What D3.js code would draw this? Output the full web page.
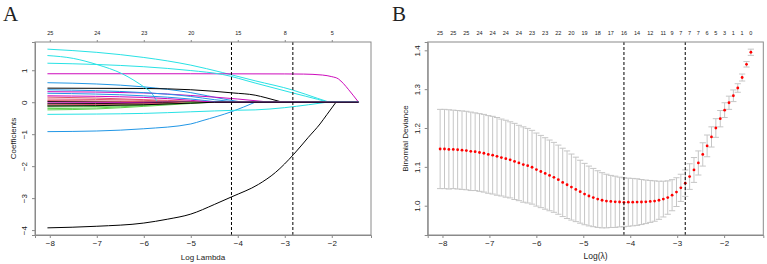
<!DOCTYPE html>
<html>
<head>
<meta charset="utf-8">
<script src="https://cdn.jsdelivr.net/npm/d3@7"></script>
<style>
  body { margin: 0; background: #fff; }
  svg { display: block; }
  text { font-family: "Liberation Sans", Arial, sans-serif; fill: #222; }
</style>
</head>
<body>
<svg id="chart" width="767" height="264"></svg>
<script>
// log(lambda) grid used by glmnet / cv.glmnet
const logLambda = [
  -8.050, -7.957, -7.864, -7.770, -7.677, -7.584, -7.491, -7.397, -7.304, -7.211,
  -7.118, -7.024, -6.931, -6.838, -6.745, -6.651, -6.558, -6.465, -6.372, -6.278,
  -6.185, -6.092, -5.999, -5.905, -5.812, -5.719, -5.626, -5.532, -5.439, -5.346,
  -5.253, -5.159, -5.066, -4.973, -4.880, -4.787, -4.693, -4.600, -4.507, -4.414,
  -4.320, -4.227, -4.134, -4.041, -3.947, -3.854, -3.761, -3.668, -3.574, -3.481,
  -3.388, -3.295, -3.201, -3.108, -3.015, -2.922, -2.828, -2.735, -2.642, -2.549,
  -2.455, -2.362, -2.269, -2.176, -2.082, -1.989, -1.896, -1.803, -1.709, -1.616,
  -1.523, -1.430
];

// cross-validated binomial deviance (mean) and its standard error
const cvMean = [
  1.146, 1.146, 1.145, 1.145, 1.144, 1.143, 1.142, 1.140, 1.139, 1.137,
  1.135, 1.132, 1.130, 1.127, 1.124, 1.121, 1.118, 1.114, 1.110, 1.106,
  1.103, 1.099, 1.093, 1.088, 1.083, 1.078, 1.073, 1.067, 1.060, 1.054,
  1.048, 1.042, 1.036, 1.030, 1.025, 1.021, 1.017, 1.014, 1.012, 1.011,
  1.010, 1.0095, 1.0088, 1.0090, 1.0092, 1.0093, 1.0095, 1.010, 1.011, 1.012,
  1.014, 1.017, 1.021, 1.027, 1.035, 1.046, 1.058, 1.075, 1.092, 1.110,
  1.132, 1.154, 1.177, 1.200, 1.224, 1.246, 1.265, 1.283, 1.303, 1.330,
  1.364, 1.395
];
const cvSd = [
  0.102, 0.102, 0.102, 0.101, 0.101, 0.101, 0.101, 0.101, 0.100, 0.100,
  0.100, 0.100, 0.100, 0.100, 0.099, 0.099, 0.098, 0.098, 0.097, 0.097,
  0.096, 0.095, 0.094, 0.093, 0.092, 0.091, 0.090, 0.089, 0.088, 0.087,
  0.085, 0.083, 0.081, 0.079, 0.077, 0.075, 0.073, 0.071, 0.069, 0.067,
  0.066, 0.064, 0.063, 0.062, 0.061, 0.060, 0.058, 0.056, 0.054, 0.052,
  0.049, 0.046, 0.043, 0.040, 0.037, 0.035, 0.034, 0.033, 0.032, 0.031,
  0.030, 0.028, 0.026, 0.024, 0.021, 0.019, 0.017, 0.015, 0.011, 0.009,
  0.007, 0.008
];

// number of non-zero coefficients at each lambda
const nzero = [
  25, 25, 25, 25, 25, 25, 25, 25, 25, 24,
  24, 24, 24, 24, 24, 24, 24, 24, 24, 24,
  24, 23, 23, 23, 23, 23, 22, 22, 20, 20,
  20, 19, 19, 19, 18, 18, 18, 17, 17, 17,
  16, 16, 16, 14, 14, 14, 12, 12, 12, 11,
  11, 11, 10, 9, 8, 7, 7, 7, 7, 7,
  6, 6, 5, 5, 4, 3, 2, 1, 1, 1,
  1, 0
];

const lambdaMin = -4.134;
const lambda1se = -2.828;

// panel A top axis: degrees of freedom at the bottom tick positions
const coefTicks = [-8, -7, -6, -5, -4, -3, -2];
const coefTopDf = [25, 24, 23, 20, 15, 8, 5];

// coefficient paths, [logLambda, coef] knots from small lambda until the variable drops out
const coefPaths = [
  [[-8.05, -3.93], [-7, -3.88], [-6, -3.78], [-5.5, -3.66], [-5, -3.5], [-4.5, -3.2], [-4.13, -2.96], [-3.56, -2.57], [-3.2, -2.2], [-2.81, -1.63], [-2.5, -1.1], [-2.25, -0.68], [-2.1, -0.38], [-1.91, 0]],
  [[-8.05, 0.16], [-7, 0.13], [-6, 0.08], [-5, 0.03], [-4.6, 0]],
  [[-8.05, -0.24], [-7, -0.21], [-6, -0.13], [-5, -0.04], [-4.5, 0]],
  [[-8.05, 0.61], [-7, 0.57], [-6, 0.48], [-5, 0.3], [-4.3, 0.1], [-3.9, 0]],
  [[-8.05, 1.66], [-7, 1.56], [-6, 1.4], [-5, 1.16], [-4.33, 0.93], [-3.63, 0.67], [-2.83, 0.38], [-2.3, 0.12], [-2.05, 0]],
  [[-8.05, 0.89], [-5, 0.89], [-3, 0.885], [-2.6, 0.88], [-2.2, 0.85], [-2.0, 0.8], [-1.86, 0.73], [-1.75, 0.58], [-1.64, 0.39], [-1.43, 0]],
  [[-8.05, 0.44], [-6, 0.43], [-5, 0.39], [-4.1, 0.29], [-3.63, 0.22], [-3.4, 0.14], [-3.05, 0]],
  [[-8.05, 0.1], [-6, 0.06], [-5.2, 0]],
  [[-8.05, -0.15], [-6.5, -0.12], [-5.5, -0.06], [-4.8, 0]],
  [[-8.05, -0.92], [-7, -0.9], [-6, -0.83], [-5, -0.68], [-4.76, -0.58], [-4.12, -0.29], [-3.63, 0]],
  [[-8.05, 1.46], [-7.5, 1.37], [-7, 1.18], [-6.46, 0.89], [-5.96, 0.44], [-5.86, 0.33], [-5.71, 0]],
  [[-8.05, 0.33], [-6, 0.29], [-5, 0.21], [-4, 0.1], [-3.3, 0]],
  [[-8.05, 0.02], [-6, 0.01], [-5, 0]],
  [[-8.05, 0.05], [-6.5, 0.03], [-5.5, 0]],
  [[-8.05, -0.1], [-6, -0.06], [-5, -0.02], [-4.6, 0]],
  [[-8.05, 0.39], [-6, 0.3], [-5, 0.18], [-4.5, 0.08], [-4, 0]],
  [[-8.05, 1.22], [-7, 1.18], [-6, 1.11], [-5, 0.99], [-4.33, 0.87], [-3.63, 0.6], [-2.83, 0.29], [-2.3, 0.09], [-2.08, 0]],
  [[-8.05, -0.02], [-6, -0.01], [-5.5, 0]],
  [[-8.05, -0.05], [-6, -0.03], [-5.2, 0]],
  [[-8.05, -0.08], [-6, -0.05], [-5, 0]],
  [[-8.05, -0.2], [-7, -0.18], [-6, -0.1], [-5.3, -0.04], [-4.9, 0]],
  [[-8.05, 0.28], [-6, 0.2], [-5, 0.1], [-4.4, 0]],
  [[-8.05, -0.38], [-7, -0.37], [-6, -0.35], [-5, -0.3], [-4, -0.25], [-3.63, -0.24], [-3, -0.17], [-2.5, -0.08], [-2.1, 0]],
  [[-8.05, 0.2], [-6, 0.15], [-5, 0.06], [-4.5, 0]],
  [[-8.05, -0.12], [-6, -0.08], [-5, -0.03], [-4.5, 0]]
];

// R 4.x default palette, matplot cycles col = 1:6
const pathColors = ["#000000", "#DF536B", "#61D04F", "#2297E6", "#28E2E5", "#CD0BBC"];

const devTicks = [1.0, 1.1, 1.2, 1.3, 1.4];
const coefYTicks = [-4, -3, -2, -1, 0, 1];

const svg = d3.select('#chart');
const boxTop = 42, boxBottom = 235;
const axisColor = '#8a8a8a';

// R style 4% axis expansion
const pad = ext => {
  const d = (ext[1] - ext[0]) * 0.04;
  return [ext[0] - d, ext[1] + d];
};

const drawFrame = (g, x, y, yTicks, yFmt) => {
  const [x0, x1] = x.range();
  g.append('rect')
    .attr('x', x0).attr('y', boxTop)
    .attr('width', x1 - x0).attr('height', boxBottom - boxTop)
    .attr('fill', 'none').attr('stroke', axisColor).attr('stroke-width', 1);

  const xa = g.append('g')
    .attr('transform', `translate(0,${boxBottom})`)
    .call(d3.axisBottom(x).tickValues(coefTicks).tickSize(3).tickPadding(2).tickFormat(d3.format('d')));
  xa.selectAll('text').attr('font-size', 8).attr('fill', '#333');

  const ya = g.append('g')
    .attr('transform', `translate(${x0},0)`)
    .call(d3.axisLeft(y).tickValues(yTicks).tickSize(3).tickFormat(yFmt));
  ya.selectAll('text')
    .attr('font-size', 8).attr('fill', '#333')
    .attr('text-anchor', 'middle')
    .attr('x', 0).attr('y', -8).attr('dy', 0)
    .attr('transform', 'rotate(-90)');

  [xa, ya].forEach(a => {
    a.select('.domain').attr('stroke', axisColor);
    a.selectAll('.tick line').attr('stroke', axisColor);
  });
};

const vLines = (g, x) => {
  [lambdaMin, lambda1se].forEach(v => {
    g.append('line')
      .attr('x1', x(v)).attr('x2', x(v))
      .attr('y1', boxTop).attr('y2', boxBottom)
      .attr('stroke', '#000').attr('stroke-width', 1)
      .attr('stroke-dasharray', '3,2');
  });
};

const xExtent = pad(d3.extent(logLambda));

// ---------- Panel A: coefficient paths ----------
(() => {
  const g = svg.append('g');
  const x = d3.scaleLinear().domain(xExtent).range([35, 371]);
  const allCoef = coefPaths.flat().map(p => p[1]);
  const y = d3.scaleLinear().domain(pad(d3.extent(allCoef))).range([boxBottom, boxTop]);

  const line = d3.line().x(d => x(d[0])).y(d => y(d[1])).curve(d3.curveMonotoneX);
  const xEnd = d3.max(logLambda);

  g.append('g').selectAll('path')
    .data(coefPaths)
    .join('path')
    .attr('d', d => {
      let p = line(d);
      const last = d[d.length - 1];
      if (last[0] < xEnd) p += `L${x(xEnd)},${y(0)}`;
      return p;
    })
    .attr('fill', 'none')
    .attr('stroke', (d, i) => pathColors[i % 6])
    .attr('stroke-width', 1);

  vLines(g, x);
  drawFrame(g, x, y, coefYTicks, d3.format('d'));

  // top axis with df
  const ta = g.append('g')
    .attr('transform', `translate(0,${boxTop})`)
    .call(d3.axisTop(x).tickValues(coefTicks).tickSize(2).tickPadding(5)
      .tickFormat((d, i) => coefTopDf[i]));
  ta.select('.domain').remove();
  ta.selectAll('.tick line').attr('stroke', axisColor);
  ta.selectAll('text').attr('font-size', 5.5).attr('fill', '#333');

  g.append('text').attr('x', 203).attr('y', 259.5)
    .attr('text-anchor', 'middle').attr('font-size', 8).text('Log Lambda');
  g.append('text').attr('transform', 'translate(15.5,138.5) rotate(-90)')
    .attr('text-anchor', 'middle').attr('font-size', 8).text('Coefficients');
  g.append('text').attr('x', 3).attr('y', 21)
    .attr('font-size', 21).style('font-family', '"Liberation Serif", "Times New Roman", serif')
    .text('A');
})();

// ---------- Panel B: cross-validation curve ----------
(() => {
  const g = svg.append('g');
  const x = d3.scaleLinear().domain(xExtent).range([427.7, 763.3]);
  const upper = cvMean.map((m, i) => m + cvSd[i]);
  const lower = cvMean.map((m, i) => m - cvSd[i]);
  const y = d3.scaleLinear().domain(pad([d3.min(lower), d3.max(upper)])).range([boxBottom, boxTop]);
  const barw = (d3.max(logLambda) - d3.min(logLambda)) * 0.01;
  const barColor = '#c6c6c6';

  const bars = g.append('g').attr('stroke', barColor).attr('stroke-width', 1);
  logLambda.forEach((l, i) => {
    bars.append('line').attr('x1', x(l)).attr('x2', x(l)).attr('y1', y(upper[i])).attr('y2', y(lower[i]));
    bars.append('line').attr('x1', x(l - barw)).attr('x2', x(l + barw)).attr('y1', y(upper[i])).attr('y2', y(upper[i]));
    bars.append('line').attr('x1', x(l - barw)).attr('x2', x(l + barw)).attr('y1', y(lower[i])).attr('y2', y(lower[i]));
  });

  g.append('g').selectAll('circle')
    .data(logLambda)
    .join('circle')
    .attr('cx', d => x(d))
    .attr('cy', (d, i) => y(cvMean[i]))
    .attr('r', 1.4)
    .attr('fill', '#ff0000');

  vLines(g, x);
  drawFrame(g, x, y, devTicks, d3.format('.1f'));

  // top labels: number of non-zero coefs, R drops labels that would overlap
  const charW = 3.1, gap = 3.5;
  let lastRight = -Infinity;
  logLambda.forEach((l, i) => {
    const txt = String(nzero[i]);
    const w = txt.length * charW;
    const cx = x(l);
    if (cx - w / 2 < lastRight + gap) return;
    lastRight = cx + w / 2;
    g.append('text').attr('x', cx).attr('y', 35.3)
      .attr('text-anchor', 'middle').attr('font-size', 5.5).attr('fill', '#333')
      .text(txt);
  });

  g.append('text').attr('x', 595.5).attr('y', 258.5)
    .attr('text-anchor', 'middle').attr('font-size', 8.5).text('Log(λ)');
  g.append('text').attr('transform', 'translate(408,138.5) rotate(-90)')
    .attr('text-anchor', 'middle').attr('font-size', 8).text('Binomial Deviance');
  g.append('text').attr('x', 392).attr('y', 21)
    .attr('font-size', 21).style('font-family', '"Liberation Serif", "Times New Roman", serif')
    .text('B');
})();
</script>
</body>
</html>
